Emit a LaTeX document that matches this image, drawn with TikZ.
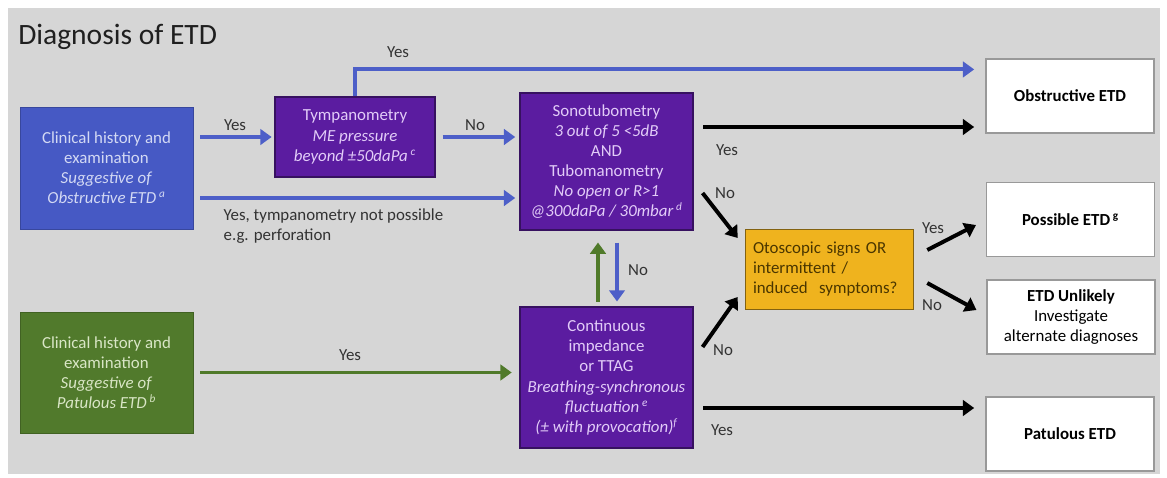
\documentclass[tikz,border=0pt]{standalone}
\usepackage{fontspec}
\setmainfont{Carlito}
\usetikzlibrary{arrows.meta, positioning}
\definecolor{BgGray}{HTML}{D6D6D6}
\definecolor{ClinBlue}{HTML}{4659C4}
\definecolor{ClinBlueText}{HTML}{D3D9F4}
\definecolor{TestPurple}{HTML}{5B1CA0}
\definecolor{TestPurpleText}{HTML}{E2CCF8}
\definecolor{ClinGreen}{HTML}{517A2C}
\definecolor{ClinGreenText}{HTML}{D9E6C6}
\definecolor{QGold}{HTML}{EFB31E}
\definecolor{QGoldText}{HTML}{4A3600}
\definecolor{ArrowBlue}{HTML}{4D5FC8}
\definecolor{ArrowGreen}{HTML}{507A2A}
\definecolor{LabelGray}{HTML}{333333}

\begin{document}
\begin{tikzpicture}[y=-1cm,
  box/.style={align=center, inner sep=2pt, font=\fontsize{12}{14.3}\selectfont},
  clin/.style={box, fill=ClinBlue, draw=ClinBlue!80!black, text=ClinBlueText,
    minimum width=4.325cm, minimum height=3.05cm},
  pclin/.style={box, fill=ClinGreen, draw=ClinGreen!80!black, text=ClinGreenText,
    minimum width=4.325cm, minimum height=3.025cm},
  test/.style={box, fill=TestPurple, draw=TestPurple!60!black, thick, text=TestPurpleText},
  quest/.style={box, fill=QGold, draw=QGold!55!black, text=QGoldText, align=left,
    minimum width=4.2cm, minimum height=2cm, text width=3.8cm},
  outcome/.style={box, fill=white, draw=gray!80, thick, text=black,
    minimum width=4.2cm, minimum height=1.85cm},
  lbl/.style={font=\fontsize{12}{14.3}\selectfont, text=LabelGray, inner sep=1pt},
  barrow/.style={-{Triangle[length=8pt,width=11pt]}, line width=2.8pt, ArrowBlue},
  garrow/.style={-{Triangle[length=8pt,width=11pt]}, line width=2.8pt, ArrowGreen},
  karrow/.style={-{Triangle[length=8pt,width=11pt]}, line width=2.8pt, black}
]
\useasboundingbox (0,0) rectangle (29.175,11.95);
\fill[BgGray] (0.2,0.2) rectangle (29.0,11.85);

\node[anchor=west, font=\fontsize{21}{24}\selectfont, text=black!88, inner sep=0pt]
  (title) at (0.45,0.925) {Diagnosis of ETD};

% entry points
\node[clin] (clin) at (2.6625,4.2)
  {Clinical history and\\examination\\\textit{Suggestive of}\\\textit{Obstructive ETD\,\textsuperscript{a}}};
\node[pclin] (pclin) at (2.6625,9.3125)
  {Clinical history and\\examination\\\textit{Suggestive of}\\\textit{Patulous ETD\,\textsuperscript{b}}};

% tests
\node[test, minimum width=4cm, minimum height=2cm] (tymp) at (8.875,3.425)
  {Tympanometry\\\textit{ME pressure}\\\textit{beyond ±50daPa\,\textsuperscript{c}}};
\node[test, minimum width=4.325cm, minimum height=3.425cm] (sono) at (15.1625,4.0375)
  {Sonotubometry\\\textit{3 out of 5 <5dB}\\AND\\Tubomanometry\\\textit{No open or R>1}\\\textit{@300daPa / 30mbar\,\textsuperscript{d}}};
\node[test, minimum width=4.325cm, minimum height=3.525cm] (cont) at (15.1625,9.4375)
  {Continuous\\impedance\\or TTAG\\\textit{Breathing-synchronous}\\\textit{fluctuation\,\textsuperscript{e}}\\\textit{(± with provocation)\textsuperscript{f}}};

\node[quest] (otos) at (20.725,6.725)
  {Otoscopic signs OR\\intermittent /\\induced~~symptoms?};

% outcomes
\node[outcome, font=\fontsize{12}{14.3}\selectfont\bfseries] (obst) at (26.75,2.4) {Obstructive ETD};
\node[outcome, font=\fontsize{12}{14.3}\selectfont\bfseries] (poss) at (26.7625,5.4875) {Possible ETD\,\textsuperscript{g}};
\node[outcome] (unlik) at (26.775,7.925) {\textbf{ETD Unlikely}\\Investigate\\alternate diagnoses};
\node[outcome, font=\fontsize{12}{14.3}\selectfont\bfseries] (patul) at (26.75,10.85) {Patulous ETD};

% obstructive branch
\draw[barrow, shorten <=5pt, shorten >=2pt] (clin.east |- tymp.west) -- (tymp.west);
\draw[barrow, shorten <=5pt, shorten >=3pt] (tymp.east) -- (tymp.east -| sono.west);
\draw[barrow, shorten >=8pt] (tymp.north) |- ([yshift=-0.275cm]obst.north west);
\coordinate (nt) at ([shift={(0,0.75)}]clin.east);
\draw[barrow, shorten <=5pt, shorten >=3pt] (nt) -- (nt -| sono.west);
\coordinate (sy) at ([shift={(0,-0.8625)}]sono.east);
\draw[karrow, shorten <=7pt, shorten >=8pt] (sy) -- (sy -| obst.west);
\draw[karrow] ([shift={(0.225,0.7875)}]sono.east) -- ([shift={(-0.175,-0.775)}]otos.west);

% patulous branch
\draw[garrow, shorten <=5pt, shorten >=5.5pt] (pclin.east) -- (pclin.east -| cont.west);
\coordinate (gu) at ([shift={(-0.2125,0)}]cont.north);
\draw[garrow, line width=2.3pt, shorten <=3.5pt, shorten >=8.5pt] (gu) -- (gu |- sono.south);
\coordinate (bd) at ([shift={(0.2625,0)}]sono.south);
\draw[barrow, line width=2.3pt, shorten <=8.5pt, shorten >=3.5pt] (bd) -- (bd |- cont.north);
\coordinate (cy) at ([shift={(0,0.7625)}]cont.east);
\draw[karrow, shorten <=7pt, shorten >=8pt] (cy) -- (cy -| patul.west);
\draw[karrow] ([shift={(0.225,-0.7625)}]cont.east) -- ([shift={(-0.175,0.7)}]otos.west);

% question
\draw[karrow] ([shift={(0.35,-0.475)}]otos.east) -- ([shift={(-0.25,0.1375)}]poss.west);
\draw[karrow] ([shift={(0.35,0.35)}]otos.east) -- ([shift={(-0.25,-0.175)}]unlik.west);

% labels
\node[lbl] at (5.875,3.125) {Yes};
\node[lbl] at (11.875,3.125) {No};
\node[lbl] at (9.95,1.3) {Yes};
\node[lbl, anchor=west, align=left] at (5.55,5.65) {Yes, tympanometry not possible\\e.g. perforation};
\node[lbl] at (18.175,3.75) {Yes};
\node[lbl] at (18.125,4.825) {No};
\node[lbl] at (18.075,8.75) {No};
\node[lbl] at (18.05,10.75) {Yes};
\node[lbl] at (8.75,8.875) {Yes};
\node[lbl] at (15.95,6.75) {No};
\node[lbl] at (23.325,5.7) {Yes};
\node[lbl] at (23.3,7.625) {No};
\end{tikzpicture}
\end{document}
